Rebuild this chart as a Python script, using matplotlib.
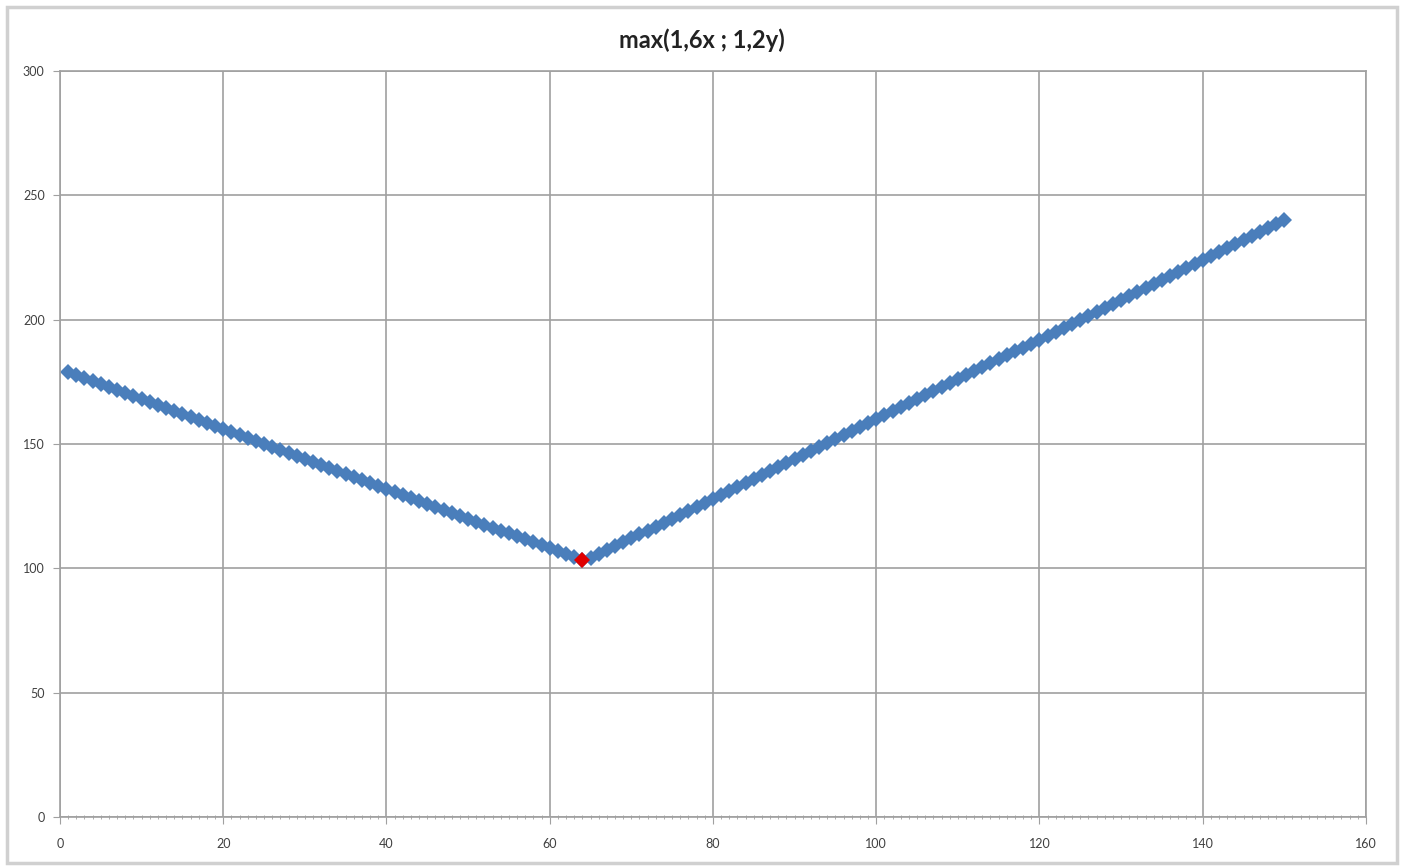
import matplotlib
matplotlib.use("Agg")
import matplotlib.pyplot as plt
from matplotlib.patches import Rectangle
from matplotlib.ticker import MultipleLocator

# x = number of units, 1..150
x_vals = list(range(1, 151))
y_vals = [178.8, 177.6, 176.4, 175.2, 174.0, 172.8, 171.6, 170.4, 169.2, 168.0,
          166.8, 165.6, 164.4, 163.2, 162.0, 160.8, 159.6, 158.4, 157.2, 156.0,
          154.8, 153.6, 152.4, 151.2, 150.0, 148.8, 147.6, 146.4, 145.2, 144.0,
          142.8, 141.6, 140.4, 139.2, 138.0, 136.8, 135.6, 134.4, 133.2, 132.0,
          130.8, 129.6, 128.4, 127.2, 126.0, 124.8, 123.6, 122.4, 121.2, 120.0,
          118.8, 117.6, 116.4, 115.2, 114.0, 112.8, 111.6, 110.4, 109.2, 108.0,
          106.8, 105.6, 104.4, 103.2, 104.0, 105.6, 107.2, 108.8, 110.4, 112.0,
          113.6, 115.2, 116.8, 118.4, 120.0, 121.6, 123.2, 124.8, 126.4, 128.0,
          129.6, 131.2, 132.8, 134.4, 136.0, 137.6, 139.2, 140.8, 142.4, 144.0,
          145.6, 147.2, 148.8, 150.4, 152.0, 153.6, 155.2, 156.8, 158.4, 160.0,
          161.6, 163.2, 164.8, 166.4, 168.0, 169.6, 171.2, 172.8, 174.4, 176.0,
          177.6, 179.2, 180.8, 182.4, 184.0, 185.6, 187.2, 188.8, 190.4, 192.0,
          193.6, 195.2, 196.8, 198.4, 200.0, 201.6, 203.2, 204.8, 206.4, 208.0,
          209.6, 211.2, 212.8, 214.4, 216.0, 217.6, 219.2, 220.8, 222.4, 224.0,
          225.6, 227.2, 228.8, 230.4, 232.0, 233.6, 235.2, 236.8, 238.4, 240.0]
min_x = [64]
min_y = [103.2]

title = "max(1,6x ; 1,2y)"

fig = plt.figure(figsize=(14.04, 8.68), dpi=100)
fig.patches.append(Rectangle((0.005, 0.006), 0.99, 0.986, transform=fig.transFigure,
                             fill=False, edgecolor="#d0d0d0", linewidth=2.5))

ax = fig.add_axes([0.0427, 0.0588, 0.9302, 0.8594])
ax.set_xlim(0, 160)
ax.set_ylim(0, 300)
ax.xaxis.set_major_locator(MultipleLocator(20))
ax.xaxis.set_minor_locator(MultipleLocator(1))
ax.yaxis.set_major_locator(MultipleLocator(50))
ax.grid(True, which="major", color="#a0a0a0", linewidth=1.2)
ax.set_axisbelow(True)
for s in ax.spines.values():
    s.set_color("#a0a0a0")
    s.set_linewidth(1.2)
ax.tick_params(axis="both", which="major", labelsize=9, colors="#a0a0a0",
               labelcolor="#404040", length=5, direction="out")
ax.tick_params(axis="y", which="major", pad=6)
ax.tick_params(axis="x", which="major", pad=10)
ax.tick_params(axis="x", which="minor", length=3, direction="inout", colors="#a0a0a0")
for lab in ax.get_xticklabels() + ax.get_yticklabels():
    lab.set_family(["Lato", "DejaVu Sans"])

ax.plot(x_vals, y_vals, linestyle="none", marker="D", markersize=8,
        color="#4a7ebb", markeredgewidth=0)
ax.plot(min_x, min_y, linestyle="none", marker="D", markersize=8,
        color="#e00000", markeredgewidth=0)

fig.text(0.5, 0.954, title, ha="center", va="center", fontsize=17,
         fontweight="bold", family=["Lato", "DejaVu Sans"], color="#222222")

fig.savefig("out.png", dpi=100)
